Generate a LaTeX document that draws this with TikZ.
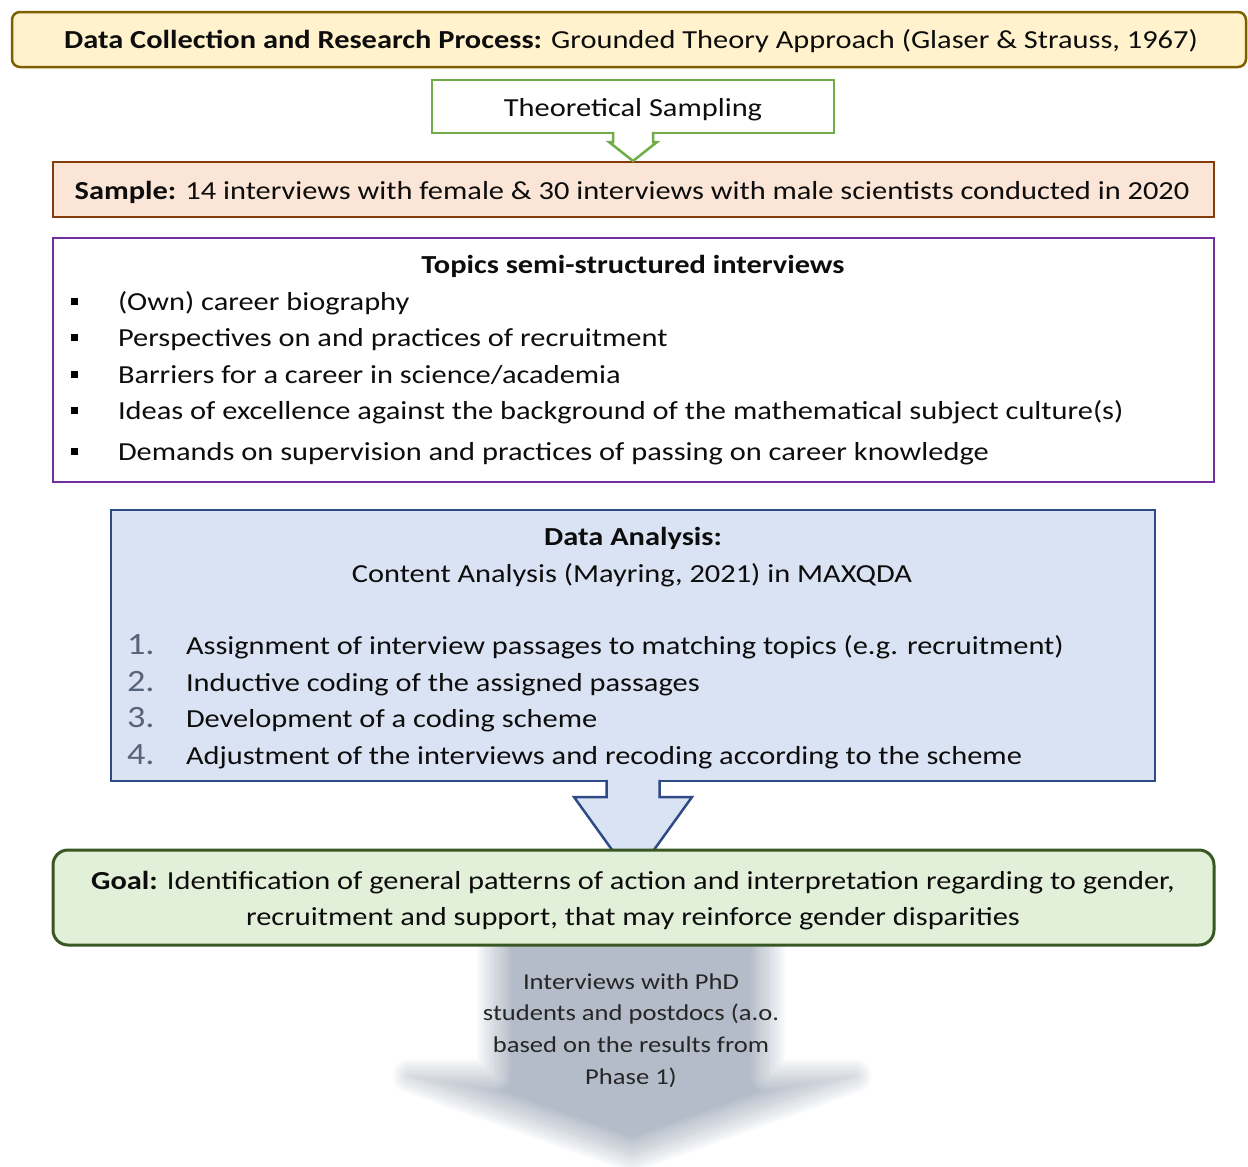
\documentclass[tikz,border=0pt]{standalone}
\usepackage{fontspec}
\setmainfont{Carlito}[FakeStretch=1.17]
\usetikzlibrary{calc}

\definecolor{topfill}{HTML}{FFF2CC}
\definecolor{topline}{HTML}{7F6000}
\definecolor{tsline}{HTML}{70AD47}
\definecolor{samplefill}{HTML}{FBE5D6}
\definecolor{sampleline}{HTML}{843C0C}
\definecolor{topicline}{HTML}{7030A0}
\definecolor{dafill}{HTML}{DAE3F3}
\definecolor{daline}{HTML}{2F4B86}
\definecolor{goalfill}{HTML}{E2F0D9}
\definecolor{goalline}{HTML}{385723}
\definecolor{nextgray}{HTML}{B3BCC8}
\definecolor{numgray}{HTML}{56647A}
\definecolor{textblack}{HTML}{0D0D0D}

\newcommand\bodyfont{\fontsize{26}{31}\selectfont}
\newcommand\smallbody{\fontsize{22.7}{28}\selectfont}
\newcommand\numfont{\fontsize{31}{36}\selectfont}

\begin{document}
\begin{tikzpicture}[x=1pt,y=-1pt,
  every node/.style={inner sep=0pt, outer sep=0pt, font=\bodyfont, text=textblack},
  frame/.style={draw, line width=2.5pt, minimum width=#1},
  line/.style={anchor=base west},
  centreline/.style={anchor=base},
  bulletsq/.style={fill=black, minimum size=7pt},
  numlabel/.style={anchor=base west, font=\numfont, text=numgray},
  nextstep/.style={line join=round}
]
\useasboundingbox (0,0) rectangle (1248,1167);

% ---- soft grey arrow towards the next phase ----
\foreach \w in {34,30,26,22,18,14,10,6,2}{
  \draw[nextstep, draw=nextgray, line width=\w pt, opacity=0.075]
    (494,930) -- (768,930) -- (768,1076) -- (854,1076) -- (632,1155)
    -- (410,1076) -- (494,1076) -- cycle;
}
\fill[nextgray] (494,930) -- (768,930) -- (768,1076) -- (854,1076) -- (632,1155)
    -- (410,1076) -- (494,1076) -- cycle;
\begin{scope}
  \clip (494,930) -- (768,930) -- (768,1076) -- (854,1076) -- (632,1155)
    -- (410,1076) -- (494,1076) -- cycle;
  \foreach \w in {34,30,26,22,18,14,10,6,2}{
    \draw[nextstep, draw=white, line width=\w pt, opacity=0.075]
      (494,930) -- (768,930) -- (768,1076) -- (854,1076) -- (632,1155)
      -- (410,1076) -- (494,1076) -- cycle;
  }
\end{scope}

% ---- header ----
\node[frame=1234pt, draw=topline, fill=topfill, minimum height=55pt,
      rounded corners=8pt] (top) at (629,39.5) {};
\node[centreline] (toptext) at (631,48)
  {\textbf{Data Collection and Research Process:} Grounded Theory Approach (Glaser \& Strauss, 1967)};

% ---- theoretical sampling callout ----
\node[frame=402pt, draw=tsline, fill=white, minimum height=53pt] (ts) at (633,106.5) {};
\node[centreline] (tstext) at (633,116) {Theoretical Sampling};

% ---- sample ----
\node[frame=1161pt, draw=sampleline, fill=samplefill, minimum height=55pt] (sample) at (633.5,189.5) {};
\node[centreline] (sampletext) at (632,199)
  {\textbf{Sample:} 14 interviews with female \& 30 interviews with male scientists conducted in 2020};

\filldraw[fill=white, draw=tsline, line width=2.5pt, line join=miter]
  ($(ts.south)+(-20,-1.25)$) -- ($(ts.south)+(-20,9)$) -- ($(ts.south)+(-24,9)$)
  -- ($(ts.south)+(0,28)$) -- ($(ts.south)+(24,9)$) -- ($(ts.south)+(20,9)$)
  -- ($(ts.south)+(20,-1.25)$);

% ---- interview topics ----
\node[frame=1161pt, draw=topicline, fill=white, minimum height=244pt] (topics) at (633.5,360) {};
\node[centreline] (topicstitle) at (633,273) {\textbf{Topics semi-structured interviews}};
\node[bulletsq] (b1) at (74.5,301) {};
\node[bulletsq] (b2) at (74.5,337) {};
\node[bulletsq] (b3) at (74.5,374) {};
\node[bulletsq] (b4) at (74.5,410) {};
\node[bulletsq] (b5) at (74.5,451) {};
\node[line] (t1) at (118,310) {(Own) career biography};
\node[line] (t2) at (118,346) {Perspectives on and practices of recruitment};
\node[line] (t3) at (118,383) {Barriers for a career in science/academia};
\node[line] (t4) at (118,419) {Ideas of excellence against the background of the mathematical subject culture(s)};
\node[line] (t5) at (118,460) {Demands on supervision and practices of passing on career knowledge};

% ---- data analysis ----
\node[frame=1044pt, draw=daline, fill=dafill, minimum height=271pt] (da) at (633,645.5) {};
\node[centreline] (datitle) at (633,545) {\textbf{Data Analysis:}};
\node[centreline] (dasub) at (632,582) {Content Analysis (Mayring, 2021) in MAXQDA};
\node[numlabel] (n1) at (127,654) {1.};
\node[numlabel] (n2) at (127,691) {2.};
\node[numlabel] (n3) at (127,727) {3.};
\node[numlabel] (n4) at (127,764) {4.};
\node[line] (s1) at (186,654) {Assignment of interview passages to matching topics (e.g. recruitment)};
\node[line] (s2) at (186,691) {Inductive coding of the assigned passages};
\node[line] (s3) at (186,727) {Development of a coding scheme};
\node[line] (s4) at (186,764) {Adjustment of the interviews and recoding according to the scheme};

% block arrow from the analysis to the goal
\fill[dafill]
  ($(da.south)+(-26.5,-1.25)$) -- ($(da.south)+(-26.5,16)$) -- ($(da.south)+(-59,16)$)
  -- ($(da.south)+(0,98)$) -- ($(da.south)+(59,16)$) -- ($(da.south)+(26.5,16)$)
  -- ($(da.south)+(26.5,-1.25)$) -- cycle;
\draw[draw=daline, line width=2.5pt, line join=miter]
  ($(da.south)+(-26.5,-1.25)$) -- ($(da.south)+(-26.5,16)$) -- ($(da.south)+(-59,16)$)
  -- ($(da.south)+(0,98)$) -- ($(da.south)+(59,16)$) -- ($(da.south)+(26.5,16)$)
  -- ($(da.south)+(26.5,-1.25)$);

% ---- goal ----
\node[frame=1161pt, draw=goalline, fill=goalfill, minimum height=95pt,
      line width=3pt, rounded corners=15pt] (goal) at (633.5,897.5) {};
\node[centreline] (goal1) at (633,889)
  {\textbf{Goal:} Identification of general patterns of action and interpretation regarding to gender,};
\node[centreline] (goal2) at (633,925)
  {recruitment and support, that may reinforce gender disparities};

% ---- next phase text ----
\node[centreline, font=\smallbody, text=black!85] (p1) at (631,989) {Interviews with PhD};
\node[centreline, font=\smallbody, text=black!85] (p2) at (631,1020) {students and postdocs (a.o.};
\node[centreline, font=\smallbody, text=black!85] (p3) at (631,1052) {based on the results from};
\node[centreline, font=\smallbody, text=black!85] (p4) at (631,1084) {Phase 1)};
\end{tikzpicture}
\end{document}
